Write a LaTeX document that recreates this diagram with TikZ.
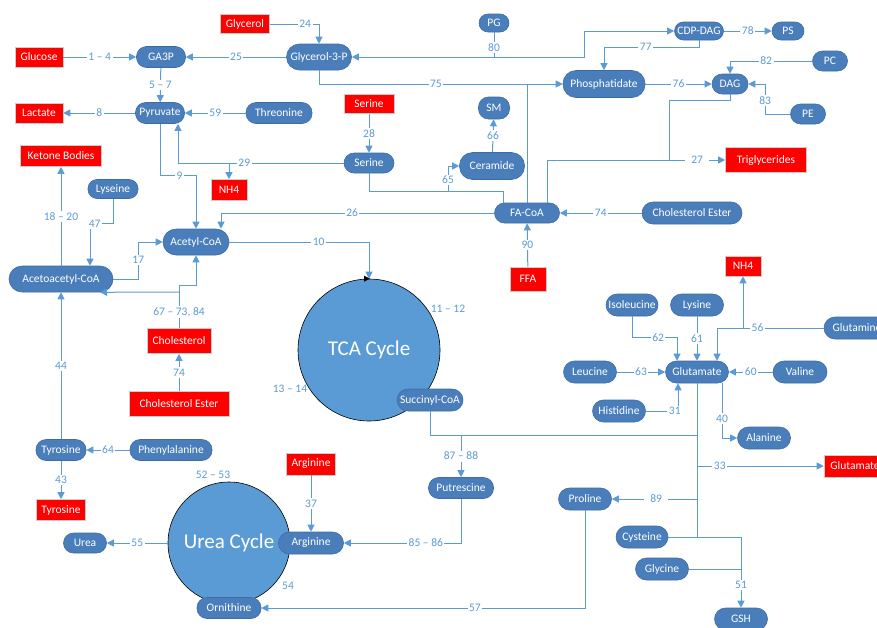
\documentclass[tikz,border=0pt]{standalone}
\usepackage{fontspec}
\setmainfont{Carlito}
\usepackage{xcolor}
\usepackage{tikz}
\usetikzlibrary{arrows.meta}

\definecolor{pillblue}{RGB}{74,126,187}
\definecolor{pilledge}{RGB}{62,108,162}
\definecolor{lineblue}{RGB}{91,155,213}
\definecolor{cycleblue}{RGB}{91,155,213}
\definecolor{boxred}{RGB}{255,0,0}

\begin{document}
\begin{tikzpicture}[x=1pt, y=-1pt,
    pill/.style={rectangle, rounded corners=10pt, fill=pillblue, draw=pilledge, line width=0.6pt,
        text=white, font=\fontsize{11.5}{13}\selectfont, minimum height=21pt, inner sep=0pt},
    redbox/.style={rectangle, fill=boxred, draw=black!20, line width=0.6pt, text=white,
        font=\fontsize{11.5}{13}\selectfont, minimum height=20pt, inner sep=0pt},
    cycle/.style={circle, fill=cycleblue, draw=black, line width=0.6pt, text=white, inner sep=0pt},
    line/.style={draw=lineblue, line width=1pt},
    conn/.style={line, -{Triangle[length=7pt,width=7pt]}},
    lbl/.style={fill=white, inner sep=1.5pt, text=lineblue, font=\fontsize{11.5}{13}\selectfont},
    note/.style={inner sep=0pt, text=lineblue, font=\fontsize{11.5}{13}\selectfont}]

    \useasboundingbox (0,0) rectangle (877,627);

    % Cycles
    \node[cycle, minimum size=142pt, font=\fontsize{21}{24}\selectfont] (tca) at (369,350) {TCA Cycle};
    \node[cycle, minimum size=122pt, font=\fontsize{21}{24}\selectfont] (urea cycle) at (229,543) {Urea Cycle};
    \fill[black] (tca.north) ++(-5,-3) -- ++(6,3) -- ++(-6,3) -- cycle;
    \node[note] (n1112) at (448,309) {11 -- 12};
    \node[note] (n1314) at (290,389) {13 -- 14};
    \node[note] (n5253) at (213,475) {52 -- 53};
    \node[note] (n54) at (288,586) {54};

    % Sources and sinks
    \node[redbox, minimum width=48pt] (glucose) at (39,57) {Glucose};
    \node[redbox, minimum width=49pt, minimum height=19pt] (glycerol) at (245,24) {Glycerol};
    \node[redbox, minimum width=48pt] (lactate) at (39,113) {Lactate};
    \node[redbox, minimum width=81pt, minimum height=21pt] (ketone) at (61,156) {Ketone Bodies};
    \node[redbox, minimum width=36pt, minimum height=21pt] (nh4a) at (229,190) {NH4};
    \node[redbox, minimum width=50pt, minimum height=19pt] (serine red) at (369,104) {Serine};
    \node[redbox, minimum width=81pt, minimum height=25pt] (trig) at (766,160) {Triglycerides};
    \node[redbox, minimum width=36pt, minimum height=24pt] (ffa) at (528,279) {FFA};
    \node[redbox, minimum width=64pt, minimum height=25pt] (cholesterol) at (179,341) {Cholesterol};
    \node[redbox, minimum width=100pt, minimum height=25pt] (chol ester red) at (179,404) {Cholesterol Ester};
    \node[redbox, minimum width=49pt, minimum height=22pt] (arginine red) at (311,464) {Arginine};
    \node[redbox, minimum width=49pt, minimum height=21pt] (tyrosine red) at (61,510) {Tyrosine};
    \node[redbox, minimum width=36pt] (nh4b) at (743,266) {NH4};
    \node[redbox, minimum width=62pt, minimum height=22pt] (glutamate red) at (855,466) {Glutamate};

    % Metabolites
    \node[pill, minimum width=49pt] (ga3p) at (161,57) {GA3P};
    \node[pill, minimum width=65pt, minimum height=26pt, rounded corners=13pt] (g3p) at (319,57) {Glycerol-3-P};
    \node[pill, minimum width=30pt, minimum height=18pt, rounded corners=9pt] (pg) at (494,23) {PG};
    \node[pill, minimum width=49pt, minimum height=18pt, rounded corners=9pt] (cdpdag) at (699,31) {CDP-DAG};
    \node[pill, minimum width=32pt, minimum height=18pt, rounded corners=9pt] (ps) at (788,31) {PS};
    \node[pill, minimum width=82pt, minimum height=27pt, rounded corners=13pt] (phos) at (604,84) {Phosphatidate};
    \node[pill, minimum width=36pt, minimum height=20pt] (dag) at (730,84) {DAG};
    \node[pill, minimum width=35pt, minimum height=20pt] (pc) at (830,61) {PC};
    \node[pill, minimum width=35pt, minimum height=20pt] (pe) at (808,114) {PE};
    \node[pill, minimum width=49pt] (pyruvate) at (160,113) {Pyruvate};
    \node[pill, minimum width=66pt] (threonine) at (279,113) {Threonine};
    \node[pill, minimum width=50pt, minimum height=20pt] (serine) at (369,163) {Serine};
    \node[pill, minimum width=31pt, minimum height=22pt] (sm) at (494,108) {SM};
    \node[pill, minimum width=65pt, minimum height=27pt, rounded corners=13pt] (ceramide) at (492,166) {Ceramide};
    \node[pill, minimum width=50pt, minimum height=19pt, rounded corners=9pt] (lyseine) at (113,189) {Lyseine};
    \node[pill, minimum width=66pt, minimum height=26pt, rounded corners=13pt] (acetyl) at (196,242) {Acetyl-CoA};
    \node[pill, minimum width=104pt, minimum height=26pt, rounded corners=13pt] (acetoacetyl) at (61,279) {Acetoacetyl-CoA};
    \node[pill, minimum width=65pt, minimum height=20pt] (facoa) at (527,213) {FA-CoA};
    \node[pill, minimum width=100pt, minimum height=22pt, rounded corners=11pt] (chol ester) at (692,213) {Cholesterol Ester};
    \node[pill, minimum width=66pt, minimum height=22pt, rounded corners=11pt] (succinyl) at (430,400) {Succinyl-CoA};
    \node[pill, minimum width=52pt, minimum height=22pt, rounded corners=11pt] (isoleucine) at (632,305) {Isoleucine};
    \node[pill, minimum width=53pt, minimum height=22pt, rounded corners=11pt] (lysine) at (697,305) {Lysine};
    \node[pill, minimum width=66pt, minimum height=22pt, rounded corners=11pt] (glutamine) at (857,328) {Glutamine};
    \node[pill, minimum width=63pt, minimum height=22pt, rounded corners=11pt] (glutamate) at (697,372) {Glutamate};
    \node[pill, minimum width=53pt, minimum height=22pt, rounded corners=11pt] (leucine) at (590,372) {Leucine};
    \node[pill, minimum width=54pt, minimum height=22pt, rounded corners=11pt] (valine) at (800,372) {Valine};
    \node[pill, minimum width=53pt, minimum height=22pt, rounded corners=11pt] (histidine) at (619,411) {Histidine};
    \node[pill, minimum width=53pt, minimum height=22pt, rounded corners=11pt] (alanine) at (764,438) {Alanine};
    \node[pill, minimum width=50pt] (tyrosine) at (61,450) {Tyrosine};
    \node[pill, minimum width=82pt] (phenyl) at (171,450) {Phenylalanine};
    \node[pill, minimum width=65pt] (putrescine) at (461,488) {Putrescine};
    \node[pill, minimum width=53pt, minimum height=22pt, rounded corners=11pt] (proline) at (585,499) {Proline};
    \node[pill, minimum width=65pt, minimum height=22pt, rounded corners=11pt] (arginine) at (311,543) {Arginine};
    \node[pill, minimum width=43pt, minimum height=20pt] (urea) at (85,543) {Urea};
    \node[pill, minimum width=64pt] (ornithine) at (229,608) {Ornithine};
    \node[pill, minimum width=52pt, minimum height=22pt, rounded corners=11pt] (cysteine) at (642,537) {Cysteine};
    \node[pill, minimum width=53pt, minimum height=22pt, rounded corners=11pt] (glycine) at (662,569) {Glycine};
    \node[pill, minimum width=53pt, minimum height=22pt, rounded corners=11pt] (gsh) at (741,619) {GSH};

    % Junctions
    \coordinate (j65) at (448,191);
    \coordinate (j27) at (669,160);
    \coordinate (jchol) at (179,292);
    \coordinate (jsuc) at (697,435);

    % Glycolysis
    \draw[conn] (glucose) -- node[lbl]{1 -- 4} (ga3p);
    \draw[conn] (glycerol.east) -| node[lbl, pos=0.36]{24} (g3p.north);
    \draw[conn] (g3p) -- node[lbl]{25} (ga3p);
    \draw[conn] (ga3p) -- node[lbl]{5 -- 7} (pyruvate);
    \draw[conn] (pyruvate) -- node[lbl]{8} (lactate);
    \draw[conn] (threonine) -- node[lbl]{59} (pyruvate);
    \draw[conn] (serine.west) -| node[lbl, pos=0.3]{29} ([xshift=18pt]pyruvate.south);
    \draw[conn] (nh4a.north |- serine.west) -- (nh4a.north);
    \draw[conn] (pyruvate.south) -- ++(0,52) -| node[lbl, pos=0.27]{9} (acetyl.north);

    % Lipids
    \draw[conn] (pg.south) |- node[lbl, pos=0.3]{80} (g3p.east);
    \draw[conn] (pg.south |- g3p.east) -- ++(90,0) |- (cdpdag.west);
    \draw[conn] (g3p.south) |- node[lbl, pos=0.74]{75} (phos.west);
    \draw[line] (facoa.north) -- (facoa.north |- phos.west);
    \draw[conn] (cdpdag) -- node[lbl]{78} (ps);
    \draw[conn] (cdpdag.south) -- ++(0,7) -| node[lbl, pos=0.28]{77} (phos.north);
    \draw[conn] (phos) -- node[lbl]{76} (dag);
    \draw[conn] (pc.west) -| node[lbl, pos=0.28]{82} (dag.north);
    \draw[conn] (pe.west) -- ++(-25,0) |- node[lbl, pos=0.22]{83} (dag.east);
    \draw[conn] (dag.south) -- ++(0,6) -| (j27) -- node[lbl, inner xsep=6pt]{27} (trig.west);
    \draw[line] ([xshift=20pt]facoa.north) |- (j27);
    \draw[conn] (serine red) -- node[lbl]{28} (serine);
    \draw[line] (serine.south) -- ++(0,18) -| ([xshift=-24pt]facoa.north);
    \draw[conn] (j65) |- node[lbl, pos=0.22]{65} (ceramide.west);
    \draw[conn] (ceramide) -- node[lbl]{66} (sm);
    \draw[conn] (facoa.west) -| node[lbl, pos=0.26]{26} ([xshift=25pt]acetyl.north);
    \draw[conn] (ffa) -- node[lbl]{90} (facoa);
    \draw[conn] (chol ester) -- node[lbl]{74} (facoa);

    % Ketone bodies and cholesterol
    \draw[conn] (acetoacetyl) -- node[lbl]{18 -- 20} (ketone);
    \draw[conn] (lyseine.south) -- ++(0,25) -| node[lbl, pos=0.4]{47} ([xshift=29pt]acetoacetyl.north);
    \draw[conn] (acetoacetyl.east) -- ++(25,0) |- node[lbl, pos=0.26]{17} (acetyl.west);
    \draw[conn] (cholesterol.north) -- node[lbl, pos=0.37]{67 -- 73, 84} ++(0,-43) -| (acetyl.south);
    \draw[conn] (jchol) -- ([xshift=39pt]acetoacetyl.south);
    \draw[conn] (chol ester red) -- node[lbl]{74} (cholesterol);
    \draw[conn] (acetyl.east) -| node[lbl, pos=0.32]{10} (tca.north);

    % Amino acids
    \draw[conn] (isoleucine.south) -- ++(0,21) -| node[lbl, pos=0.29]{62} ([xshift=-20pt]glutamate.north);
    \draw[conn] (lysine) -- node[lbl]{61} (glutamate);
    \draw[conn] (glutamine.west) -| node[lbl, pos=0.31]{56} ([xshift=20pt]glutamate.north);
    \draw[conn] (nh4b.south |- glutamine.west) -- (nh4b.south);
    \draw[conn] (leucine) -- node[lbl]{63} (glutamate);
    \draw[conn] (valine) -- node[lbl]{60} (glutamate);
    \draw[conn] (histidine.east) -| node[lbl, pos=0.45]{31} ([xshift=-19pt]glutamate.south);
    \draw[conn] ([xshift=25pt]glutamate.south) |- node[lbl, pos=0.32]{40} (alanine.west);
    \draw[line] (glutamate.south) -- (glutamate.south |- cysteine.east);
    \draw[line] (succinyl.south) |- (jsuc);
    \draw[conn] (putrescine.north |- jsuc) -- node[lbl]{87 -- 88} (putrescine.north);
    \draw[conn] (jsuc |- glutamate red.west) -- node[lbl, pos=0.18]{33} (glutamate red.west);
    \draw[conn] (jsuc |- proline.east) -- node[lbl, inner xsep=6pt, pos=0.48]{89} (proline.east);
    \draw[conn] (cysteine.east) -| node[lbl, pos=0.84]{51} (gsh.north);
    \draw[line] (glycine.east) -- (glycine.east -| gsh.north);
    \draw[conn] (phenyl) -- node[lbl]{64} (tyrosine);
    \draw[conn] (tyrosine) -- node[lbl]{44} (acetoacetyl);
    \draw[conn] (tyrosine) -- node[lbl]{43} (tyrosine red);

    % Urea cycle
    \draw[conn] (putrescine.south) |- node[lbl, pos=0.65]{85 -- 86} (arginine.east);
    \draw[conn] (arginine red) -- node[lbl]{37} (arginine);
    \draw[conn] (proline.south) |- node[lbl, pos=0.67]{57} (ornithine.east);
    \draw[conn] (urea cycle.west) -- node[lbl]{55} (urea.east);
\end{tikzpicture}
\end{document}
